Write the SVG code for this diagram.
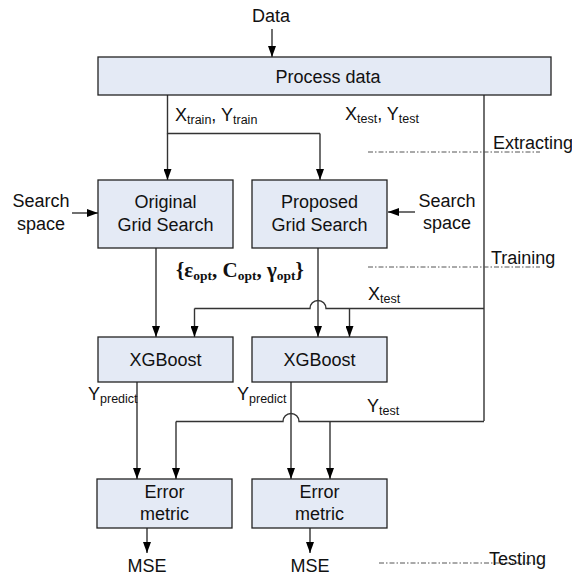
<svg xmlns="http://www.w3.org/2000/svg" width="572" height="575" viewBox="0 0 572 575">
<defs>
<marker id="ah" viewBox="0 0 11 8" refX="11" refY="4" markerWidth="11" markerHeight="8" markerUnits="userSpaceOnUse" orient="auto">
<path d="M0,0 L11,4 L0,8 z" fill="#000"/>
</marker>
</defs>
<style>
.box{fill:#e4eaf5;stroke:#222;stroke-width:1.3}
.t{font-family:"Liberation Sans",Arial,sans-serif;font-size:18px;fill:#111;text-anchor:middle}
.l{font-family:"Liberation Sans",Arial,sans-serif;font-size:18px;fill:#111}
.s{font-size:12.5px}
.gs{font-size:13.5px}
.c{fill:none;stroke:#333;stroke-width:1.4}
.a{marker-end:url(#ah)}
.dd{fill:none;stroke:#555;stroke-width:1;stroke-dasharray:5,2,1.5,2}
.g{font-family:"Liberation Serif","Times New Roman",serif;font-weight:bold;font-size:21px;fill:#111}
</style>
<rect width="572" height="575" fill="#fff"/>
<g id="connectors">
<path class="c a" d="M272,29 V57"/>
<path class="c" d="M167.5,95 V133.5 H320"/>
<path class="c a" d="M167.5,133.5 V180"/>
<path class="c a" d="M320,133.5 V180"/>
<path class="c a" d="M72,213 H98"/>
<path class="c a" d="M415,212 H388"/>
<path class="c a" d="M156,248 V337"/>
<path class="c a" d="M318,248 V337"/>
<path class="c" d="M484,95 V421"/>
<path class="c" d="M484,308.5 H326 A8,8 0 0 0 310,308.5 H194.5"/>
<path class="c a" d="M194.5,308.5 V337"/>
<path class="c a" d="M349.5,308.5 V337"/>
<path class="c a" d="M137,382 V479"/>
<path class="c a" d="M291,382 V479"/>
<path class="c" d="M484,421.5 H299 A8,8 0 0 0 283,421.5 H176"/>
<path class="c a" d="M176,421.5 V479"/>
<path class="c a" d="M330,421.5 V479"/>
<path class="c a" d="M147,528 V553"/>
<path class="c a" d="M310,528 V553"/>
<path class="dd" d="M368,152 H540"/>
<path class="dd" d="M368,267 H540"/>
<path class="dd" d="M379,563 H540"/>
</g>
<g id="data"><text class="t" x="271" y="22">Data</text></g>
<g id="process">
<rect class="box" x="98" y="57" width="453" height="38"/>
<text class="t" x="328" y="83">Process data</text>
</g>
<g id="original">
<rect class="box" x="98" y="180" width="135" height="68"/>
<text class="t" x="165.5" y="208">Original</text>
<text class="t" x="165.5" y="231">Grid Search</text>
</g>
<g id="proposed">
<rect class="box" x="252" y="180" width="135" height="68"/>
<text class="t" x="319.5" y="208">Proposed</text>
<text class="t" x="319.5" y="231">Grid Search</text>
</g>
<g id="xgb1">
<rect class="box" x="98" y="337" width="135" height="45"/>
<text class="t" x="165.5" y="366">XGBoost</text>
</g>
<g id="xgb2">
<rect class="box" x="252" y="337" width="135" height="45"/>
<text class="t" x="319.5" y="366">XGBoost</text>
</g>
<g id="err1">
<rect class="box" x="97" y="479" width="135" height="49"/>
<text class="t" x="164.5" y="498">Error</text>
<text class="t" x="164.5" y="520">metric</text>
</g>
<g id="err2">
<rect class="box" x="252" y="479" width="135" height="49"/>
<text class="t" x="319.5" y="498">Error</text>
<text class="t" x="319.5" y="520">metric</text>
</g>
<g id="labels">
<text class="t" x="41" y="207">Search</text>
<text class="t" x="41" y="230">space</text>
<text class="t" x="447" y="207">Search</text>
<text class="t" x="447" y="229">space</text>
<text class="l" x="175" y="121">X<tspan class="s" dy="3">train</tspan><tspan dy="-3">, Y</tspan><tspan class="s" dy="3">train</tspan></text>
<text class="l" x="345" y="120">X<tspan class="s" dy="3">test</tspan><tspan dy="-3">, Y</tspan><tspan class="s" dy="3">test</tspan></text>
<text class="g" x="176" y="277">{ε<tspan class="gs" dy="3">opt</tspan><tspan dy="-3">, C</tspan><tspan class="gs" dy="3">opt</tspan><tspan dy="-3">, γ</tspan><tspan class="gs" dy="3">opt</tspan><tspan dy="-3">}</tspan></text>
<text class="l" x="368" y="300">X<tspan class="s" dy="3">test</tspan></text>
<text class="l" x="88" y="400">Y<tspan class="s" dy="3">predict</tspan></text>
<text class="l" x="237" y="400">Y<tspan class="s" dy="3">predict</tspan></text>
<text class="l" x="367" y="412">Y<tspan class="s" dy="3">test</tspan></text>
<text class="t" x="147" y="572">MSE</text>
<text class="t" x="310" y="572">MSE</text>
<text class="l" x="493" y="149">Extracting</text>
<text class="l" x="491" y="264">Training</text>
<text class="l" x="489" y="565">Testing</text>
</g>
</svg>
